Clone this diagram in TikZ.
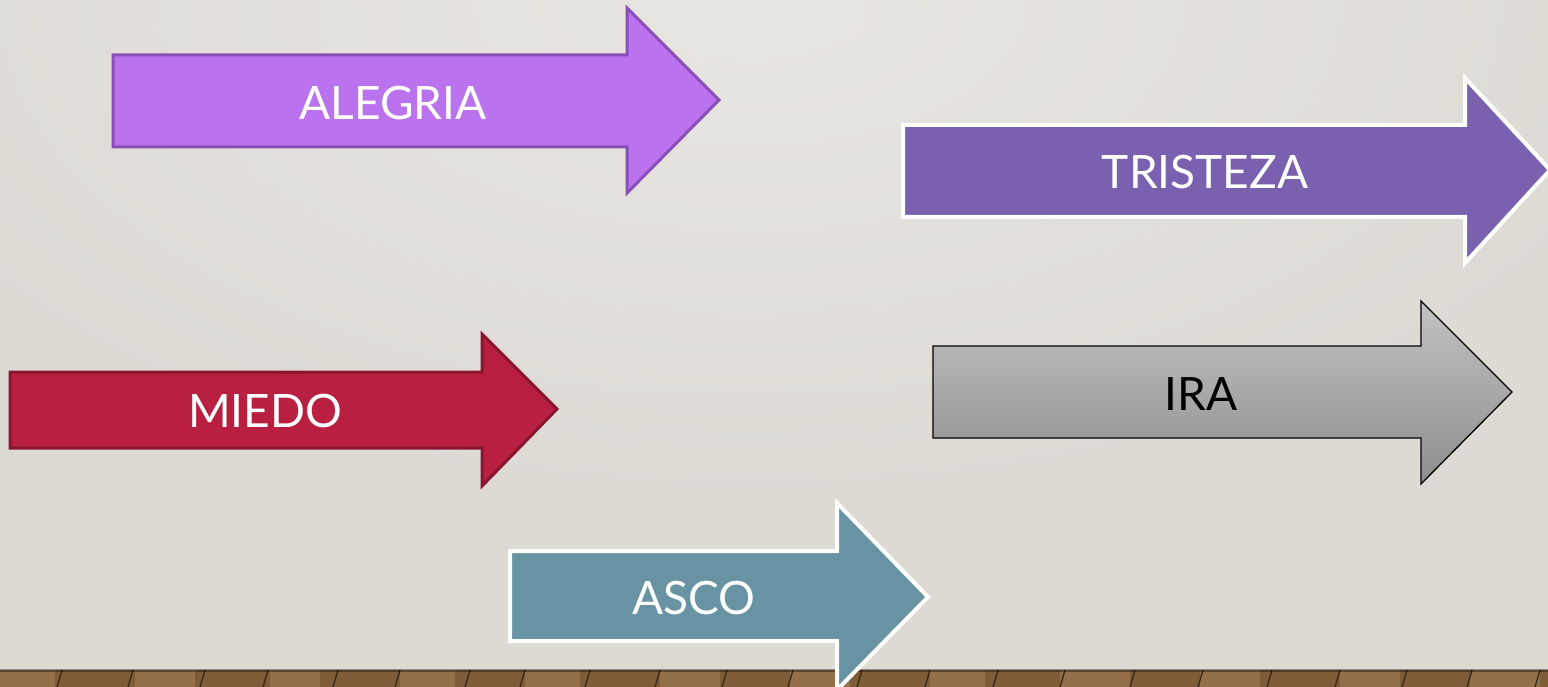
\documentclass[tikz,border=0pt]{standalone}
\usepackage{fontspec}
\setmainfont{Lato}
\usetikzlibrary{shadings}
\definecolor{bgA}{HTML}{E8E6E2}
\definecolor{bgB}{HTML}{DDDAD4}
\definecolor{woodA}{HTML}{7E5C38}
\definecolor{woodB}{HTML}{A68259}
\definecolor{woodLine}{HTML}{3A2615}
\definecolor{alegF}{HTML}{BB72EE}
\definecolor{alegD}{HTML}{8A4EB8}
\definecolor{trisF}{HTML}{7A61AF}
\definecolor{miedF}{HTML}{B81F41}
\definecolor{miedD}{HTML}{8A1530}
\definecolor{ascoF}{HTML}{6893A2}
\definecolor{iraT}{HTML}{C2C2C2}
\definecolor{iraB}{HTML}{8E8E8E}
\tikzset{
  lbl/.style={font=\fontsize{46}{46}\selectfont, text=white, inner sep=0pt, anchor=center},
  arrowshape/.style={line join=miter, miter limit=10},
}
\begin{document}
\begin{tikzpicture}[x=1pt,y=-1pt]
\useasboundingbox (0,0) rectangle (1548,687);
% background
\fill[bgB] (0,0) rectangle (1548,670);
\begin{scope}
\clip (0,0) rectangle (1548,670);
\shade[inner color=bgA, outer color=bgB] (-200,-500) rectangle (1700,500);
\end{scope}
% floor
\fill[woodA] (0,670) rectangle (1548,687);
\foreach \x/\w in {0/55,135/60,270/50,400/55,525/55,660/60,790/60,930/55,1060/70,1200/60,1340/60,1470/70}{
  \fill[woodB, opacity=0.55] (\x,670) rectangle ++(\w,17);
}
\foreach \x in {62,133,205,268,338,400,470,525,590,660,727,793,862,930,998,1065,1135,1203,1272,1340,1407,1472,1540}{
  \draw[woodLine, line width=1.3pt] (\x,670) -- ++(-5,17);
}
\fill[black, opacity=0.35] (0,669) rectangle (1548,672);
% ALEGRIA
\draw[arrowshape, fill=alegF, draw=alegD, line width=3pt]
  (113,55) -- (627,55) -- (627,8) -- (719,100) -- (627,193) -- (627,147) -- (113,147) -- cycle;
\node[lbl] (alegria) at (393,103) {ALEGRIA};
% TRISTEZA
\draw[arrowshape, fill=trisF, draw=white, line width=4pt]
  (903,125) -- (1465,125) -- (1465,78) -- (1550,170) -- (1465,263) -- (1465,217) -- (903,217) -- cycle;
\node[lbl] (tristeza) at (1205,172) {TRISTEZA};
% MIEDO
\draw[arrowshape, fill=miedF, draw=miedD, line width=3pt]
  (10,372) -- (482,372) -- (482,334) -- (557,409) -- (482,486) -- (482,448) -- (10,448) -- cycle;
\node[lbl] (miedo) at (265,411) {MIEDO};
% IRA
\shade[top color=iraT, bottom color=iraB]
  (933,346) -- (1421,346) -- (1421,301) -- (1512,392) -- (1421,484) -- (1421,438) -- (933,438) -- cycle;
\draw[arrowshape, draw=black, line width=1.3pt]
  (933,346) -- (1421,346) -- (1421,301) -- (1512,392) -- (1421,484) -- (1421,438) -- (933,438) -- cycle;
\node[lbl, text=black] (ira) at (1201,394) {IRA};
% ASCO
\draw[arrowshape, fill=ascoF, draw=white, line width=4pt]
  (510,551) -- (837,551) -- (837,503) -- (928,597) -- (837,690) -- (837,641) -- (510,641) -- cycle;
\node[lbl] (asco) at (694,598) {ASCO};
\end{tikzpicture}
\end{document}
